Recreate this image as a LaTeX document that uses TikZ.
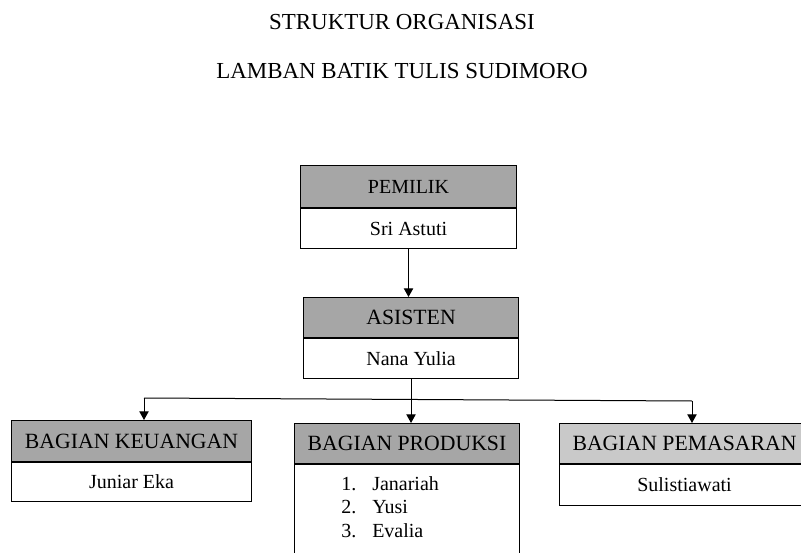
\documentclass[tikz,border=0pt]{standalone}
\usepackage{fontspec}
\setmainfont{Liberation Serif}
\usetikzlibrary{arrows.meta}
\definecolor{abutua}{HTML}{A6A6A6}
\definecolor{abumuda}{HTML}{C9C9C9}
\tikzset{
    kepala/.style={draw, line width=0.8pt, fill=abutua, rectangle, inner sep=0pt,
        anchor=north west, minimum height=30pt, font=\fontsize{16.3}{18}\selectfont},
    isi/.style={draw, line width=0.8pt, fill=white, rectangle, inner sep=0pt,
        anchor=north west, minimum height=30pt, font=\fontsize{15}{17}\selectfont},
    panah/.style={line width=0.75pt, -{Triangle[width=7pt,length=6.5pt]}}
}
\begin{document}
\begin{tikzpicture}[x=0.75pt,y=-0.75pt]
        \useasboundingbox (0,0) rectangle (801,553);
        \clip (0,0) rectangle (801,553);
        % judul
        \node (judul1) at (402,22) {\fontsize{17.2}{20}\selectfont STRUKTUR ORGANISASI};
        \node (judul2) at (402,71) {\fontsize{17.2}{20}\selectfont LAMBAN BATIK TULIS SUDIMORO};
        % pemilik dan asisten
        \node[kepala, minimum width=162pt, minimum height=31.5pt,
            font=\fontsize{15}{17}\selectfont] (pemilik) at (300,165) {PEMILIK};
        \node[isi, minimum width=162pt] (pemilikNama) at (pemilik.south west) {Sri Astuti};
        \node[kepala, minimum width=161.25pt] (asisten) at (303,297) {ASISTEN};
        \node[isi, minimum width=161.25pt] (asistenNama) at (asisten.south west) {Nana Yulia};
        % bagian
        \node[kepala, minimum width=180pt, minimum height=30.75pt] (keuangan) at (11,420) {BAGIAN KEUANGAN};
        \node[isi, minimum width=180pt, minimum height=29.25pt] (keuanganNama) at (keuangan.south west) {Juniar Eka};
        \node[kepala, minimum width=168.75pt] (produksi) at (294,423) {BAGIAN PRODUKSI};
        \node[isi, minimum width=168.75pt, minimum height=75pt] (produksiNama) at (produksi.south west) {};
        \node[anchor=west, inner sep=0pt, font=\fontsize{15}{17.6}\selectfont] (produksiDaftar) at (341,509)
            {\begin{tabular}{@{}l@{\hspace{12pt}}l@{}}1. & Janariah\\ 2. & Yusi\\ 3. & Evalia\end{tabular}};
        \node[kepala, fill=abumuda, minimum width=187.5pt] (pemasaran) at (559,423) {BAGIAN PEMASARAN};
        \node[isi, minimum width=187.5pt, minimum height=30.75pt] (pemasaranNama) at (pemasaran.south west) {Sulistiawati};
        % garis
        \coordinate (garisKiri) at (144,398);
        \coordinate (garisKanan) at (692,401);
        \draw[panah] (pemilikNama.south) -- (pemilikNama.south |- asisten.north);
        \draw[line width=0.75pt] (garisKiri) -- (garisKanan);
        \draw[panah] (asistenNama.south) -- (asistenNama.south |- produksi.north);
        \draw[panah] (garisKiri) -- (garisKiri |- keuangan.north);
        \draw[panah] (garisKanan) -- (garisKanan |- pemasaran.north);
    \end{tikzpicture}
\end{document}
